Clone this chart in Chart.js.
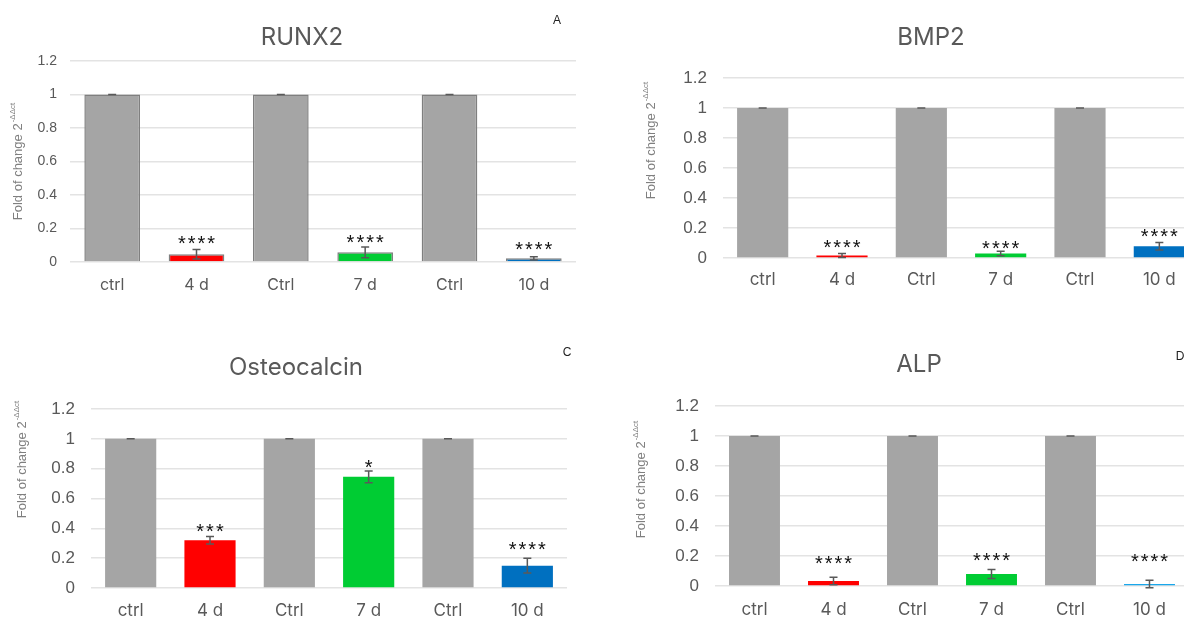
<!DOCTYPE html>
<html>
<head>
<meta charset="utf-8">
<script src="https://cdn.jsdelivr.net/npm/chart.js@4.4.1/dist/chart.umd.min.js"></script>
<style>
  html, body { margin: 0; padding: 0; background: #fff; }
  body { width: 1184px; height: 618px; overflow: hidden; position: relative; }
  .panel { position: absolute; }
</style>
</head>
<body>
<div class="panel" style="left:0;top:0"><canvas id="runx2" width="600" height="310"></canvas></div>
<div class="panel" style="left:600px;top:0"><canvas id="bmp2" width="620" height="310"></canvas></div>
<div class="panel" style="left:0;top:310px"><canvas id="osteo" width="600" height="308"></canvas></div>
<div class="panel" style="left:600px;top:310px"><canvas id="alp" width="620" height="308"></canvas></div>
<script>
// data
const categories = ["ctrl", "4 d", "Ctrl", "7 d", "Ctrl", "10 d"];
const yTicks = [0, 0.2, 0.4, 0.6, 0.8, 1, 1.2];

const runx2Values = [1, 0.046, 1, 0.058, 1, 0.022];
const runx2Errors = [0, 0.028, 0, 0.032, 0, 0.01];
const runx2Stars = ["", "****", "", "****", "", "****"];
const runx2StarY = [0, 0.137, 0, 0.143, 0, 0.1];

const bmp2Values = [1, 0.017, 1, 0.03, 1, 0.078];
const bmp2Errors = [0, 0.013, 0, 0.015, 0, 0.025];
const bmp2Stars = ["", "****", "", "****", "", "****"];
const bmp2StarY = [0, 0.1, 0, 0.087, 0, 0.167];

const osteoValues = [1, 0.32, 1, 0.745, 1, 0.15];
const osteoErrors = [0, 0.025, 0, 0.04, 0, 0.05];
const osteoStars = ["", "***", "", "*", "", "****"];
const osteoStarY = [0, 0.408, 0, 0.833, 0, 0.287];

const alpValues = [1, 0.033, 1, 0.08, 1, 0.013];
const alpErrors = [0, 0.025, 0, 0.03, 0, 0.025];
const alpStars = ["", "****", "", "****", "", "****"];
const alpStarY = [0, 0.18, 0, 0.2, 0, 0.187];

const grey = "#a5a5a5";
const colorsA = [grey, "#ff0000", grey, "#00cc33", grey, "#0070c0"];
const colorsD = [grey, "#ff0000", grey, "#00cc33", grey, "#1aa7ec"];

// error bars, stars, titles drawn on top of the bars
const extras = {
  id: "extras",
  afterDatasetsDraw(chart, args, opts) {
    const ctx = chart.ctx;
    const y = chart.scales.y;
    const meta = chart.getDatasetMeta(0);
    ctx.save();
    ctx.strokeStyle = "#595959";
    ctx.lineWidth = 1.5;
    meta.data.forEach((bar, i) => {
      const v = opts.values[i], e = opts.errors[i];
      const yt = y.getPixelForValue(v + e), yb = y.getPixelForValue(v - e);
      ctx.beginPath();
      ctx.moveTo(bar.x, yt); ctx.lineTo(bar.x, yb);
      ctx.moveTo(bar.x - 4, yt); ctx.lineTo(bar.x + 4, yt);
      ctx.moveTo(bar.x - 4, yb); ctx.lineTo(bar.x + 4, yb);
      ctx.stroke();
      if (opts.stars[i]) {
        ctx.fillStyle = "#111";
        ctx.font = "20px 'Liberation Sans'";
        ctx.letterSpacing = "2px";
        ctx.textAlign = "center";
        ctx.textBaseline = "middle";
        ctx.fillText(opts.stars[i], bar.x + 1, y.getPixelForValue(opts.starY[i]) + 5);
      }
    });
    ctx.restore();
  },
  afterDraw(chart, args, opts) {
    const ctx = chart.ctx;
    ctx.save();
    ctx.letterSpacing = "0px";
    ctx.fillStyle = "#595959";
    ctx.font = "24px Inter";
    ctx.textAlign = "center";
    ctx.textBaseline = "middle";
    ctx.fillText(opts.title, opts.titleX, opts.titleY);
    ctx.fillStyle = "#222";
    ctx.font = "12px 'Liberation Sans'";
    ctx.fillText(opts.letter, opts.letterX, opts.letterY);
    // rotated y axis title with superscript
    ctx.translate(opts.yTitleX, opts.yTitleY);
    ctx.rotate(-Math.PI / 2);
    ctx.fillStyle = "#7f7f7f";
    ctx.textAlign = "left";
    const main = "Fold of change 2", sup = "-ΔΔct";
    ctx.font = "13px 'Liberation Sans'";
    const w1 = ctx.measureText(main).width;
    ctx.font = "8px 'Liberation Sans'";
    const w2 = ctx.measureText(sup).width;
    const x0 = -(w1 + w2) / 2;
    ctx.font = "13px 'Liberation Sans'";
    ctx.fillText(main, x0, 0);
    ctx.font = "8px 'Liberation Sans'";
    ctx.fillText(sup, x0 + w1 + 1, -5);
    ctx.restore();
  },
};

function makeChart(id, p) {
  return new Chart(document.getElementById(id), {
    type: "bar",
    data: {
      labels: categories,
      datasets: [{
        data: p.values,
        backgroundColor: p.colors,
        borderColor: p.border ? "#7f7f7f" : "rgba(0,0,0,0)",
        borderWidth: p.border ? 1.5 : 0,
        barPercentage: 1,
        categoryPercentage: p.barFrac,
      }],
    },
    options: {
      responsive: false,
      animation: false,
      layout: { padding: { top: p.top, right: p.right, bottom: p.bottom, left: 0 } },
      plugins: {
        legend: { display: false },
        tooltip: { enabled: false },
        extras: p,
      },
      scales: {
        y: {
          min: 0, max: 1.2,
          afterBuildTicks: (s) => { s.ticks = yTicks.map((v) => ({ value: v })); },
          ticks: {
            color: "#595959",
            font: { family: "'Liberation Sans'", size: p.yFont },
            padding: p.yPad,
            callback: (v) => String(parseFloat(v.toFixed(1))),
          },
          grid: { color: "#e3e3e3", lineWidth: 1.5, drawTicks: false },
          border: { display: false },
          afterFit: (s) => { s.width = p.yWidth; },
        },
        x: {
          ticks: { color: "#595959", font: { family: "Inter", size: p.xFont }, padding: p.xPad },
          grid: { display: false },
          border: { display: false },
          afterFit: (s) => { s.height = p.xHeight; },
        },
      },
    },
    plugins: [extras],
  });
}

makeChart("runx2", {
  values: runx2Values, errors: runx2Errors, stars: runx2Stars, starY: runx2StarY,
  colors: colorsA, border: true, barFrac: 0.66,
  top: 61, right: 24, bottom: 8, yWidth: 70, yPad: 13, xHeight: 40, xPad: 6, yFont: 14, xFont: 16,
  title: "RUNX2", titleX: 302, titleY: 38, letter: "A", letterX: 557, letterY: 21,
  yTitleX: 18, yTitleY: 162,
});
makeChart("bmp2", {
  values: bmp2Values, errors: bmp2Errors, stars: bmp2Stars, starY: bmp2StarY,
  colors: colorsA, border: false, barFrac: 0.645,
  top: 78, right: 21, bottom: 12, yWidth: 123, yPad: 16, xHeight: 40, xPad: 4, yFont: 17, xFont: 17,
  title: "BMP2", titleX: 331, titleY: 38, letter: "B", letterX: 592, letterY: 21,
  yTitleX: 51, yTitleY: 141,
});
makeChart("osteo", {
  values: osteoValues, errors: osteoErrors, stars: osteoStars, starY: osteoStarY,
  colors: colorsA, border: false, barFrac: 0.645,
  top: 99, right: 33, bottom: 0, yWidth: 91, yPad: 16, xHeight: 30, xPad: 5, yFont: 17, xFont: 17,
  title: "Osteocalcin", titleX: 296, titleY: 58, letter: "C", letterX: 567, letterY: 43,
  yTitleX: 22, yTitleY: 150,
});
makeChart("alp", {
  values: alpValues, errors: alpErrors, stars: alpStars, starY: alpStarY,
  colors: colorsD, border: false, barFrac: 0.645,
  top: 96, right: 31, bottom: 0, yWidth: 115, yPad: 16, xHeight: 32, xPad: 6, yFont: 17, xFont: 17,
  title: "ALP", titleX: 319, titleY: 55, letter: "D", letterX: 580, letterY: 47,
  yTitleX: 41, yTitleY: 170,
});
</script>
</body>
</html>
